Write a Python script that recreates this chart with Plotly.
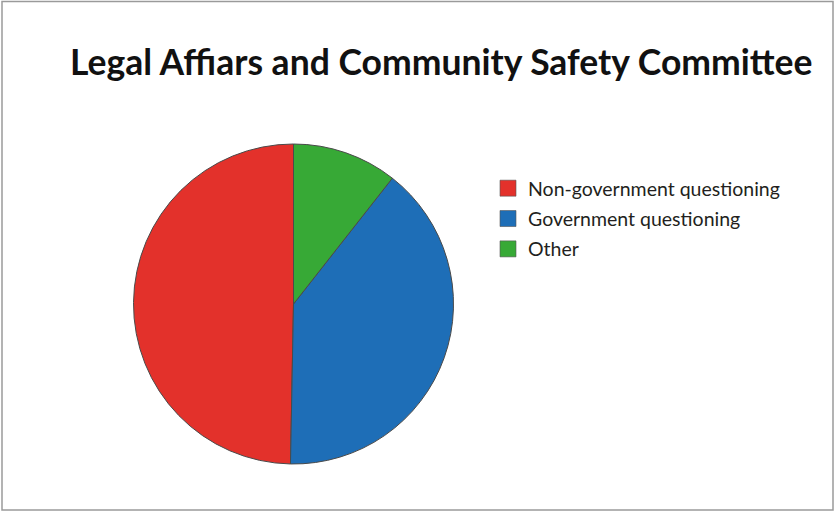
import plotly.graph_objects as go

labels = ["Non-government questioning", "Government questioning", "Other"]
values = [49.7, 39.7, 10.6]
colors = ["#E3312B", "#1E6EB7", "#37A936"]
title_text = "Legal Affiars and Community Safety Committee"

W, H = 837, 513

fig = go.Figure()
fig.add_trace(go.Pie(
    labels=labels,
    values=values,
    sort=False,
    direction="counterclockwise",
    rotation=-360 * values[0] / sum(values),
    textinfo="none",
    hoverinfo="label+percent",
    showlegend=False,
    marker=dict(colors=colors, line=dict(color="#4a4a4a", width=1)),
    domain=dict(x=[128 / W, 459 / W], y=[1 - 464 / H, 1 - 144 / H]),
))

# legend entries
for i, (lab, col) in enumerate(zip(labels, colors)):
    fig.add_trace(go.Scatter(
        x=[None], y=[None], mode="markers", name=lab,
        legendgroup=f"g{i}", showlegend=True,
        marker=dict(symbol="square", size=16, color=col,
                    line=dict(color="#555555", width=0.6)),
    ))

fig.update_layout(
    width=W, height=H,
    margin=dict(l=0, r=0, t=0, b=0),
    paper_bgcolor="white",
    plot_bgcolor="white",
    xaxis=dict(visible=False),
    yaxis=dict(visible=False),
    legend=dict(
        x=488 / W, y=1 - 169 / H, xanchor="left", yanchor="top",
        font=dict(family="Lato, Open Sans, sans-serif", size=19.5, color="#231f20"),
        tracegroupgap=2, itemwidth=30,
        bgcolor="rgba(0,0,0,0)",
    ),
    annotations=[dict(
        text="<b>" + title_text + "</b>",
        x=441 / W, y=1 - 61 / H, xref="paper", yref="paper",
        xanchor="center", yanchor="middle", showarrow=False,
        font=dict(family="Lato, sans-serif", size=35.5, color="#111111"),
    )],
    shapes=[dict(
        type="rect", xref="paper", yref="paper",
        x0=2 / W, x1=833 / W, y0=1 - 510 / H, y1=1 - 1.5 / H,
        line=dict(color="#9a9a9a", width=1.5), fillcolor="rgba(0,0,0,0)",
    )],
)

fig.write_html("out.html", config={"displayModeBar": False},
               post_script="document.body.style.margin='0';document.body.style.overflow='hidden';")
